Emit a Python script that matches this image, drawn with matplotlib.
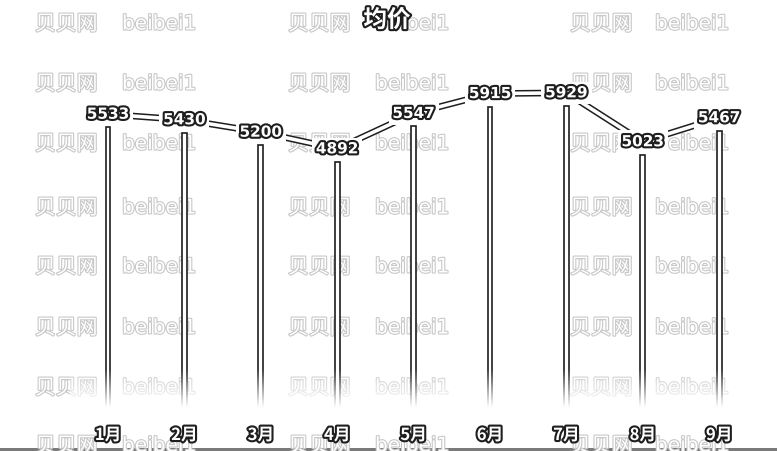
import numpy as np
import matplotlib
matplotlib.use('Agg')
import matplotlib.pyplot as plt
import matplotlib.patheffects as pe
from matplotlib.transforms import offset_copy

# data
months = ['1月', '2月', '3月', '4月', '5月', '6月', '7月', '8月', '9月']
avg_price = [5533, 5430, 5200, 4892, 5547, 5915, 5929, 5023, 5467]
title = '均价'
wm_cn = '贝贝网'
wm_en = 'beibei1'

plt.rcParams['font.family'] = ['Noto Sans CJK SC', 'DejaVu Sans']

W, H = 777, 452
fig = plt.figure(figsize=(W / 100, H / 100), dpi=100)
fig.patch.set_facecolor('white')

# axes placed so bar centres / base match the picture
slot = 76.4
left_px = 108 - slot / 2
base_px = 427
scale = 0.054  # px per unit
ymax = 6800
ax = fig.add_axes([left_px / W, (H - base_px) / H, 9 * slot / W, ymax * scale / H])
ax.axis('off')

x = np.arange(len(months))
outline = [pe.withStroke(linewidth=3, foreground='#1e1e1e')]

ax.bar(x, avg_price, width=0.065, color='white', edgecolor='#1e1e1e', linewidth=1.2, zorder=2)

# fade bars out towards the base
fade_top = (base_px - 370) / scale
fade_bot = (base_px - 408) / scale
grad = np.zeros((200, 2, 4))
yy = np.linspace(fade_top, 0, 200)
alpha = np.clip((fade_top - yy) / (fade_top - fade_bot), 0, 1)
grad[..., :3] = 1
grad[..., 3] = alpha[:, None]
ax.imshow(grad, extent=(-0.5, 8.5, 0, fade_top), aspect='auto', zorder=3, interpolation='bilinear')

# line sits a little above the bar tops
line_tr = offset_copy(ax.transData, fig=fig, x=0, y=13, units='dots')
ax.plot(x, avg_price, color='white', linewidth=2.6, zorder=4, transform=line_tr,
        path_effects=[pe.Stroke(linewidth=4.8, foreground='#1e1e1e'), pe.Normal()])

for xi, v in zip(x, avg_price):
    ax.text(xi, v, str(v), transform=line_tr, ha='center', va='center',
            fontsize=11, fontweight='bold', family='DejaVu Sans', color='white', zorder=6,
            path_effects=outline,
            bbox=dict(boxstyle='square,pad=0.25', facecolor='white', edgecolor='none'))

for xi, m in zip(x, months):
    ax.text(xi, -(436 - base_px) / scale, m, ha='center', va='center', fontsize=12,
            fontweight='bold', color='white', zorder=6, path_effects=outline, clip_on=False)

ax.set_xlim(-0.5, 8.5)
ax.set_ylim(0, ymax)

fig.text(387 / W, 1 - 21 / H, title, ha='center', va='center', fontsize=17, fontweight='bold',
         color='white', path_effects=[pe.withStroke(linewidth=3, foreground='#1e1e1e')], zorder=10)

# watermark grid, behind the chart
wm_fx = [pe.withStroke(linewidth=1.6, foreground='#c8c8c8')]
rows = [25, 85, 145, 209, 268, 329, 389, 447]
cols = [(35, 122), (288, 375), (570, 655)]
for ry in rows:
    for cx, ex in cols:
        fig.text(cx / W, 1 - ry / H, wm_cn, ha='left', va='center', fontsize=15, color='white',
                 path_effects=wm_fx, zorder=-1)
        fig.text(ex / W, 1 - ry / H, wm_en, ha='left', va='center', fontsize=14.5, color='white',
                 family='DejaVu Sans', path_effects=wm_fx, zorder=-1)

# grey strip at the very bottom
fig.patches.append(plt.Rectangle((0, 0), 1, 3.5 / H, transform=fig.transFigure,
                                 facecolor='#7a7a7a', edgecolor='none', zorder=-2))

fig.savefig('out.png', dpi=100)
